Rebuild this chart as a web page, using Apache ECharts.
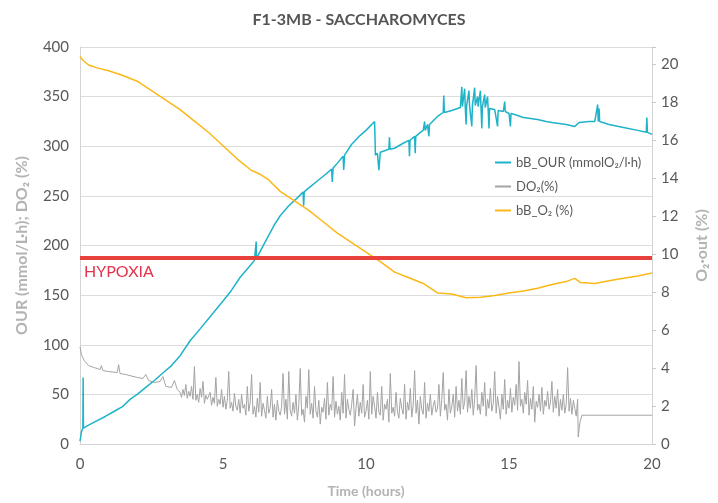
<!DOCTYPE html>
<html>
<head>
<meta charset="utf-8">
<script src="https://cdn.jsdelivr.net/npm/echarts@6/dist/echarts.min.js"></script>
<style>
  html, body { margin: 0; padding: 0; background: #fff; }
  #chart { width: 718px; height: 503px; }
</style>
</head>
<body>
<div id="chart"></div>
<script>
// OUR (mmol/L.h) - [time h, value], left axis
const ourData = [
  [0, 3], [0.05, 12], [0.1, 16], [0.11, 67], [0.12, 16], [0.3, 19], [0.5, 22], [0.9, 28],
  [1.2, 33], [1.5, 38], [1.75, 45], [2, 50], [2.3, 57], [2.6, 64], [3, 74], [3.2, 79],
  [3.5, 89], [3.85, 104], [4.2, 116], [4.6, 130], [5, 144], [5.3, 155], [5.6, 168], [5.9, 178],
  [6.1, 185], [6.15, 187], [6.16, 204], [6.17, 187], [6.2, 188], [6.5, 205], [6.8, 221],
  [7, 230], [7.3, 240], [7.6, 248], [7.8, 254], [7.82, 240], [7.84, 254], [8, 258], [8.3, 265],
  [8.6, 272], [8.8, 277], [8.82, 264], [8.85, 278], [9, 283], [9.2, 290], [9.22, 276],
  [9.25, 291], [9.5, 302], [9.8, 311], [10, 316], [10.3, 325], [10.33, 291], [10.4, 293],
  [10.45, 276], [10.5, 294], [10.8, 297], [10.82, 309], [10.84, 297], [11, 298], [11.3, 303],
  [11.5, 306], [11.52, 290], [11.54, 306], [11.7, 310], [11.72, 293], [11.74, 310], [11.9, 314],
  [12.0, 316], [12.05, 325], [12.07, 316], [12.15, 322], [12.2, 310], [12.22, 322], [12.5, 330],
  [12.7, 334], [12.72, 351], [12.74, 334], [13, 336], [13.3, 339], [13.35, 360], [13.37, 340],
  [13.45, 358], [13.47, 340], [13.5, 322], [13.52, 341], [13.6, 356], [13.62, 341], [13.7, 320],
  [13.72, 341], [13.8, 359], [13.82, 341], [13.9, 350], [13.92, 340], [14.0, 356], [14.02, 340],
  [14.05, 318], [14.07, 340], [14.15, 352], [14.17, 339], [14.25, 350], [14.27, 338], [14.3, 318],
  [14.32, 338], [14.5, 337], [14.6, 320], [14.62, 336], [14.8, 335], [14.85, 345], [14.87, 335],
  [15, 333], [15.05, 320], [15.07, 333], [15.2, 332], [15.5, 329], [16, 327], [16.3, 325],
  [16.5, 324], [17, 322], [17.3, 320], [17.45, 324], [17.8, 325], [18, 325], [18.1, 342],
  [18.12, 325], [18.15, 338], [18.17, 325], [18.5, 322], [19, 319], [19.5, 316], [19.8, 314],
  [19.82, 329], [19.84, 314], [20, 312]
];

// DO2 (%) - smooth start, left axis
const do2Start = [
  [0, 98], [0.05, 90], [0.15, 84], [0.3, 79], [0.5, 77], [0.7, 75], [0.75, 79], [0.8, 74],
  [1, 73], [1.3, 72], [1.35, 80], [1.4, 71], [1.6, 70], [2, 67], [2.2, 66], [2.3, 70],
  [2.4, 64], [2.6, 62], [2.8, 63], [2.9, 68], [3.0, 58], [3.2, 57], [3.3, 64], [3.4, 55]
];
// DO2 noisy part, one value every 0.05 h from 3.5 h to 17.4 h
const do2NoiseStart = 3.5;
const do2NoiseStep = 0.05;
const do2Noise = [
  52, 47, 55, 49, 60, 46, 53, 48, 58, 45,
  78, 44, 50, 42, 56, 47, 63, 41, 49, 45,
  43, 52, 39, 47, 41, 67, 38, 45, 40, 55,
  37, 48, 35, 44, 73, 36, 42, 33, 51, 38,
  34, 45, 31, 50, 36, 40, 29, 58, 33, 42,
  70, 30, 38, 27, 46, 32, 62, 28, 41, 34,
  26, 48, 31, 36, 55, 27, 40, 24, 44, 33,
  29, 38, 71, 30, 45, 25, 73, 34, 28, 42,
  31, 50, 24, 39, 76, 29, 35, 22, 48, 36,
  75, 30, 41, 26, 58, 33, 27, 44, 20, 37,
  32, 46, 25, 62, 29, 40, 34, 68, 27, 43,
  30, 38, 24, 52, 31, 70, 26, 45, 35, 29,
  40, 55, 18, 36, 50, 28, 42, 31, 60, 27,
  33, 44, 25, 73, 30, 48, 38, 26, 52, 32,
  29, 58, 24, 40, 35, 45, 22, 71, 31, 37,
  28, 52, 33, 26, 46, 36, 30, 60, 25, 42,
  34, 56, 27, 39, 74, 31, 44, 20, 48, 35,
  30, 62, 26, 41, 33, 50, 29, 38, 44, 32,
  36, 60, 28, 45, 72, 34, 40, 24, 55, 31,
  38, 50, 27, 58, 33, 44, 30, 66, 35, 42,
  74, 32, 48, 36, 55, 29, 46, 79, 34, 40,
  30, 52, 38, 62, 28, 45, 36, 56, 33, 41,
  73, 31, 48, 37, 25, 50, 35, 65, 30, 44,
  36, 56, 32, 47, 39, 60, 34, 83, 38, 45,
  31, 52, 40, 64, 29, 46, 35, 58, 22, 43,
  37, 50, 33, 57, 30, 44, 38, 53, 35, 42,
  63, 32, 48, 36, 55, 28, 45, 34, 50, 31,
  40, 77, 33, 46, 30, 44, 36, 28, 45
];
// DO2 end: probe dip then flat
const do2End = [
  [17.42, 7], [17.48, 22], [17.55, 29], [17.8, 29], [17.82, 31], [17.84, 29], [20, 29]
];

// bB_O2 (%) - right axis
const o2Data = [
  [0, 20.4], [0.1, 20.2], [0.3, 19.95], [0.6, 19.8], [1, 19.65], [1.5, 19.4], [2, 19.1],
  [2.5, 18.6], [3, 18.1], [3.5, 17.6], [4, 17.0], [4.5, 16.4], [5, 15.7], [5.5, 15.0],
  [6, 14.4], [6.3, 14.2], [6.6, 13.9], [7, 13.3], [7.5, 12.8], [8, 12.3], [8.5, 11.7],
  [9, 11.1], [9.5, 10.6], [10, 10.1], [10.5, 9.6], [11, 9.05], [11.5, 8.75], [12, 8.45],
  [12.5, 7.95], [13, 7.9], [13.5, 7.7], [14, 7.72], [14.5, 7.82], [15, 7.95], [15.5, 8.05],
  [16, 8.2], [16.5, 8.4], [17, 8.55], [17.3, 8.72], [17.5, 8.5], [18, 8.45], [18.5, 8.6],
  [19, 8.72], [19.5, 8.85], [20, 9.0]
];

const hypoxiaLevel = 9.8; // O2-out %
const seriesNames = ['bB_OUR (mmolO\u2082/l\u00b7h)', 'DO\u2082(%)', 'bB_O\u2082 (%)'];
const colors = ['#1eb3c8', '#a3a3a3', '#fbb817'];

const do2Data = do2Start
  .concat(do2Noise.map((v, i) => [+(do2NoiseStart + i * do2NoiseStep).toFixed(2), v]))
  .concat(do2End);

const myChart = echarts.init(document.getElementById('chart'));
const font = 'Lato, "Open Sans", sans-serif';

const option = {
  animation: false,
  textStyle: { fontFamily: font },
  title: {
    text: 'F1-3MB - SACCHAROMYCES',
    left: 'center',
    top: 7,
    textStyle: { fontSize: 16, fontWeight: 'bold', color: '#555', fontFamily: font }
  },
  grid: { left: 80, right: 66, top: 47, bottom: 57 },
  legend: {
    data: seriesNames,
    orient: 'vertical',
    left: 490,
    top: 151,
    itemWidth: 16,
    itemHeight: 2,
    itemGap: 11,
    icon: 'rect',
    textStyle: { fontSize: 13, color: '#595959', fontFamily: font }
  },
  xAxis: {
    type: 'value',
    min: 0, max: 20, interval: 5,
    name: 'Time (hours)',
    nameLocation: 'middle',
    nameGap: 40,
    nameTextStyle: { fontSize: 14, fontWeight: 'bold', color: '#b3b3b3' },
    axisLine: { lineStyle: { color: '#d4d4d4' } },
    axisTick: { show: false },
    axisLabel: { fontSize: 15, color: '#595959', margin: 13 },
    splitLine: { show: false }
  },
  yAxis: [
    {
      type: 'value',
      min: 0, max: 400, interval: 50,
      name: 'OUR (mmol/L\u00b7h); DO\u2082 (%)',
      nameLocation: 'middle',
      nameGap: 50,
      nameTextStyle: { fontSize: 16, fontWeight: 'bold', color: '#b3b3b3' },
      axisLine: { show: true, lineStyle: { color: '#d4d4d4' } },
      axisTick: { show: false },
      axisLabel: { fontSize: 15, color: '#595959', margin: 11 },
      splitLine: { lineStyle: { color: '#dcdcdc' } }
    },
    {
      type: 'value',
      min: 0, max: 20.9, interval: 2,
      name: 'O\u2082\u00b7out (%)',
      nameLocation: 'middle',
      nameGap: 42,
      nameTextStyle: { fontSize: 16, fontWeight: 'bold', color: '#b3b3b3' },
      axisLine: { show: true, lineStyle: { color: '#d4d4d4' } },
      axisTick: { show: true, length: 4, lineStyle: { color: '#c8c8c8' } },
      axisLabel: {
        fontSize: 15, color: '#595959', margin: 9,
        formatter: v => (Math.abs(v - Math.round(v)) < 1e-6 ? String(v) : '')
      },
      splitLine: { show: false }
    }
  ],
  graphic: [{
    type: 'text',
    left: 84,
    top: 264,
    style: { text: 'HYPOXIA', fontSize: 16, fill: '#e5334b', fontFamily: font }
  }],
  series: [
    {
      name: seriesNames[1], type: 'line', yAxisIndex: 0, data: do2Data,
      showSymbol: false, lineStyle: { width: 1, color: colors[1] }, itemStyle: { color: colors[1] }, z: 2
    },
    {
      name: seriesNames[0], type: 'line', yAxisIndex: 0, data: ourData,
      showSymbol: false, lineStyle: { width: 1.5, color: colors[0] }, itemStyle: { color: colors[0] }, z: 3
    },
    {
      name: seriesNames[2], type: 'line', yAxisIndex: 1, data: o2Data,
      showSymbol: false, lineStyle: { width: 1.5, color: colors[2] }, itemStyle: { color: colors[2] }, z: 4,
      markLine: {
        silent: true, symbol: 'none', label: { show: false },
        lineStyle: { color: '#e8403a', width: 4, type: 'solid' },
        data: [{ yAxis: hypoxiaLevel }],
        z: 10
      }
    }
  ]
};
option && myChart.setOption(option);
</script>
</body>
</html>
